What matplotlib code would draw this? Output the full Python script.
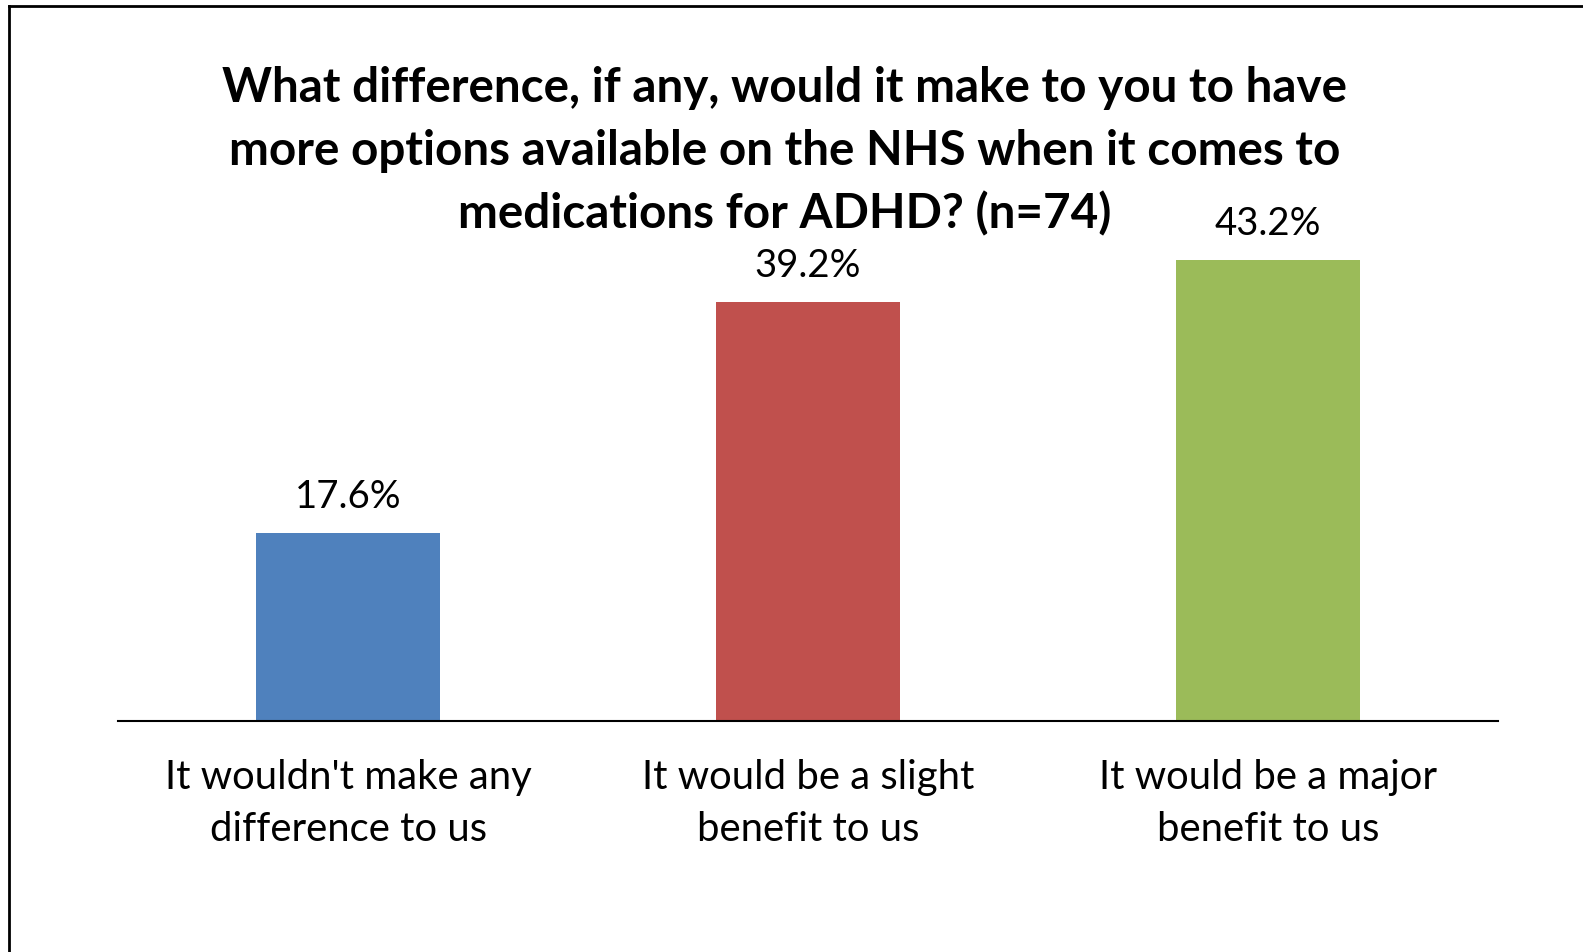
import matplotlib
matplotlib.use("Agg")
import matplotlib.pyplot as plt
from matplotlib.lines import Line2D

categories = ["It wouldn't make any\ndifference to us",
              "It would be a slight\nbenefit to us",
              "It would be a major\nbenefit to us"]
values = [17.6, 39.2, 43.2]
labels = ["17.6%", "39.2%", "43.2%"]
colors = ["#4F81BD", "#C0504D", "#9BBB59"]
title_lines = ["What difference, if any, would it make to you to have",
               "more options available on the NHS when it comes to",
               "medications for ADHD? (n=74)"]

W, H = 1583, 953
fig = plt.figure(figsize=(W / 100, H / 100), dpi=100)
plt.rcParams['font.family'] = ['Lato', 'DejaVu Sans']

# axes: x 118..1498, baseline y=722, scale 10.68 px per %
ax_left, ax_right = 118, 1498
base_y = 722
ymax = 60
px_per = 10.68
ax_top = base_y - ymax * px_per
ax = fig.add_axes([ax_left / W, (H - base_y) / H, (ax_right - ax_left) / W, (base_y - ax_top) / H])
ax.set_xlim(-0.5, 2.5)
ax.set_ylim(0, ymax)
x = range(len(values))
bars = ax.bar(x, values, width=0.40, color=colors, zorder=2)
for xi, v, lab in zip(x, values, labels):
    ax.annotate(lab, (xi, v), xytext=(0, 26 * 0.72), textcoords="offset points",
                ha="center", va="baseline", fontsize=27.6, color="black")
for s in ["top", "right", "left"]:
    ax.spines[s].set_visible(False)
ax.spines["bottom"].set_linewidth(1.5)
ax.spines["bottom"].set_color("#000000")
ax.set_yticks([])
ax.set_xticks(list(x))
ax.set_xticklabels(categories, fontsize=28.8, linespacing=1.5)
ax.tick_params(axis="x", length=0, pad=27)

for i, line in enumerate(title_lines):
    fig.text(785 / W, 1 - (102 + 63 * i) / H, line, ha="center", va="baseline",
             fontsize=34.3, fontweight="bold")

# border (top and left visible)
fig.add_artist(Line2D([9 / W, 9 / W], [0, 1 - 7 / H], color="black", lw=2, transform=fig.transFigure))
fig.add_artist(Line2D([9 / W, 1], [1 - 7 / H, 1 - 7 / H], color="black", lw=2, transform=fig.transFigure))

fig.savefig("out.png", dpi=100)
